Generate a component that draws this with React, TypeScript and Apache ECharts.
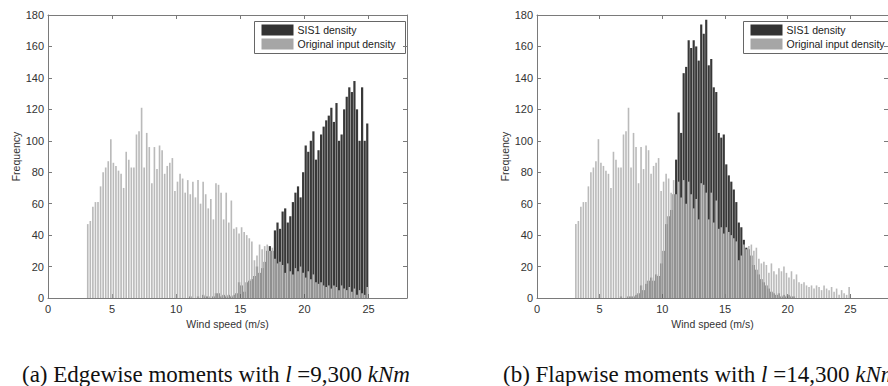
import React, { useEffect, useRef } from "react";
import * as echarts from "echarts";

// Histogram bins: 110 bins of width 0.2 m/s from 3 to 25 m/s
const binStart = 3;
const binWidth = 0.2;

const originalInput = [
  47, 49, 58, 61, 61, 71, 80, 83, 87,
  101, 86, 84, 81, 79, 70, 93, 88, 83, 83, 104, 106, 121, 83, 105, 96, 73, 96, 82, 97, 94, 79, 84, 86, 89, 68, 74, 79, 76,
  67, 75, 66, 74, 64, 75, 60, 74, 66, 57, 63, 50, 73, 72, 67, 50, 67, 48, 62,
  44, 45, 41, 45, 42, 40, 38, 36, 24, 27, 34, 31, 33, 34, 30, 32, 25, 22, 23, 21, 16, 22, 17, 15, 19, 17, 20, 16, 13, 17,
  12, 15, 10, 9, 10, 8, 7, 8, 6, 8, 7, 5, 8, 6, 5, 7, 4, 6, 2, 5, 3, 2, 7,
];

const sis1Edgewise = [
  0, 0, 0, 0, 0, 0, 0, 0, 0, 0, 0, 0, 0, 0, 0, 0, 0, 0, 0, 0,
  0, 0, 0, 0, 0, 0, 0, 0, 0, 0, 0, 0, 0, 0, 0, 0, 0, 0, 0,
  0, 1, 0, 0, 1, 0, 2, 1, 1, 0, 1, 3, 3, 1, 2, 1, 2, 1, 2, 3,
  10, 8, 4, 10, 11, 12, 14, 20, 16, 19, 23, 30, 33, 30, 43, 48, 44, 55, 57, 48,
  52, 61, 67, 71, 64, 80, 97, 93, 100, 106, 88, 94, 104, 109, 113, 116, 121, 112, 124, 100,
  104, 120, 128, 134, 131, 138, 120, 100, 134, 100, 111,
];

const sis1Flapwise = [
  0, 0, 0, 0, 0, 0, 0, 0, 0, 0, 0, 0, 0, 0, 0, 0, 0, 0,
  1, 0, 0, 1, 1, 1, 2, 3, 8, 5, 9, 11, 13, 11, 15, 14, 22, 30, 47, 52, 56, 66,
  88, 118, 105, 143, 147, 164, 159, 164, 160, 151, 174, 168, 177, 148, 152, 134, 131, 105, 102, 104,
  85, 78, 74, 69, 61, 48, 45, 37, 32, 31, 27, 21, 18, 15, 12, 10, 8, 6, 4, 3,
  2, 3, 1, 2, 1, 2, 1, 1,
  0, 0, 0, 0, 0, 0, 0, 0, 0, 0, 0, 0, 0, 0, 0, 0, 0, 0, 0, 0, 0, 0,
];

const binCenters = originalInput.map((_, i) => +(binStart + binWidth * (i + 0.5)).toFixed(2));

const xMin = 0;
const xMax = 28;
const xInterval = 5;
const yMin = 0;
const yMax = 180;
const yInterval = 20;

const legendNames = ["SIS1 density", "Original input density"];
const xAxisTitle = "Wind speed (m/s)";
const yAxisTitle = "Frequency";
const captions = [
  { label: "(a) Edgewise moments with ", sym: "l", value: " =9,300 ", unit: "kNm" },
  { label: "(b) Flapwise moments with ", sym: "l", value: " =14,300 ", unit: "kNm" },
];

const SANS = "Liberation Sans, Arial, Helvetica, sans-serif";
const SERIF = "Liberation Serif, Times New Roman, serif";
const DARK = "#383838";
const LIGHT = "#bababa";
const FRAME = "#7a7a7a";
const TEXT = "#333333";

export default function App() {
  const ref = useRef<HTMLDivElement | null>(null);

  useEffect(() => {
    if (!ref.current) return;
    const chart = echarts.init(ref.current, undefined, { renderer: "svg" });

    const panels = [
      { left: 48, sis1: sis1Edgewise },
      { left: 537, sis1: sis1Flapwise },
    ];
    const grids: any[] = [];
    const xAxes: any[] = [];
    const yAxes: any[] = [];
    const series: any[] = [];
    const graphics: any[] = [];

    panels.forEach((p, g) => {
      grids.push({ left: p.left, top: 15, width: 359, height: 283, containLabel: false });
      const tickStyle = { show: true, inside: true, length: 4, lineStyle: { color: FRAME, width: 1 } };
      const lineStyle = { show: true, onZero: false, lineStyle: { color: FRAME, width: 1 } };
      xAxes.push({
        type: "value", gridIndex: g, position: "bottom", min: xMin, max: xMax, interval: xInterval,
        axisLine: lineStyle, axisTick: tickStyle, splitLine: { show: false },
        axisLabel: { fontSize: 11, color: TEXT, fontFamily: SANS, margin: 5, showMaxLabel: false },
        name: xAxisTitle, nameLocation: "middle", nameGap: 18,
        nameTextStyle: { fontSize: 10.5, color: TEXT, fontFamily: SANS },
      });
      xAxes.push({
        type: "value", gridIndex: g, position: "top", min: xMin, max: xMax, interval: xInterval,
        axisLine: lineStyle, axisTick: tickStyle, splitLine: { show: false }, axisLabel: { show: false },
      });
      yAxes.push({
        type: "value", gridIndex: g, position: "left", min: yMin, max: yMax, interval: yInterval,
        axisLine: lineStyle, axisTick: tickStyle, splitLine: { show: false },
        axisLabel: { fontSize: 11, color: TEXT, fontFamily: SANS, margin: 4 },
        name: yAxisTitle, nameLocation: "middle", nameGap: 25,
        nameTextStyle: { fontSize: 10.5, color: TEXT, fontFamily: SANS },
      });
      yAxes.push({
        type: "value", gridIndex: g, position: "right", min: yMin, max: yMax, interval: yInterval,
        axisLine: lineStyle, axisTick: tickStyle, splitLine: { show: false }, axisLabel: { show: false },
      });
      series.push({
        type: "bar", name: legendNames[0], xAxisIndex: 2 * g, yAxisIndex: 2 * g,
        data: binCenters.map((c, i) => [c, p.sis1[i]]),
        barWidth: "86%", itemStyle: { color: DARK }, silent: true,
      });
      series.push({
        type: "bar", name: legendNames[1], xAxisIndex: 2 * g + 1, yAxisIndex: 2 * g,
        data: binCenters.map((c, i) => [c, originalInput[i]]),
        barWidth: "64%", itemStyle: { color: LIGHT }, silent: true,
      });

      // legend box (MATLAB style)
      const lx = p.left + 206;
      graphics.push({
        type: "group", left: lx, top: 21,
        children: [
          { type: "rect", shape: { x: 0, y: 0, width: 151, height: 32 }, style: { fill: "#fff", stroke: "#666", lineWidth: 1 } },
          { type: "rect", shape: { x: 7, y: 3, width: 32, height: 11 }, style: { fill: "#333" } },
          { type: "rect", shape: { x: 7, y: 17, width: 32, height: 11 }, style: { fill: "#a6a6a6" } },
          { type: "text", x: 43, y: 8.5, style: { text: legendNames[0], fontSize: 10.5, fontFamily: SANS, fill: "#222", verticalAlign: "middle" } },
          { type: "text", x: 43, y: 22.5, style: { text: legendNames[1], fontSize: 10.5, fontFamily: SANS, fill: "#222", verticalAlign: "middle" } },
        ],
      });

      const c = captions[g];
      graphics.push({
        type: "text", left: g === 0 ? 22 : 503, top: 363,
        style: {
          text: `{n|${c.label}}{i|${c.sym}}{n|${c.value}}{i|${c.unit}}`,
          rich: {
            n: { fontSize: 23, fontFamily: SERIF, fill: "#111" },
            i: { fontSize: 23, fontFamily: SERIF, fontStyle: "italic", fill: "#111" },
          },
        },
      });
    });

    chart.setOption({
      animation: false,
      backgroundColor: "#ffffff",
      grid: grids,
      xAxis: xAxes,
      yAxis: yAxes,
      series,
      graphic: graphics,
    });

    return () => chart.dispose();
  }, []);

  return (
    <div
      ref={ref}
      style={{ position: "absolute", left: 0, top: 0, width: 888, height: 386, background: "#fff" }}
    />
  );
}
